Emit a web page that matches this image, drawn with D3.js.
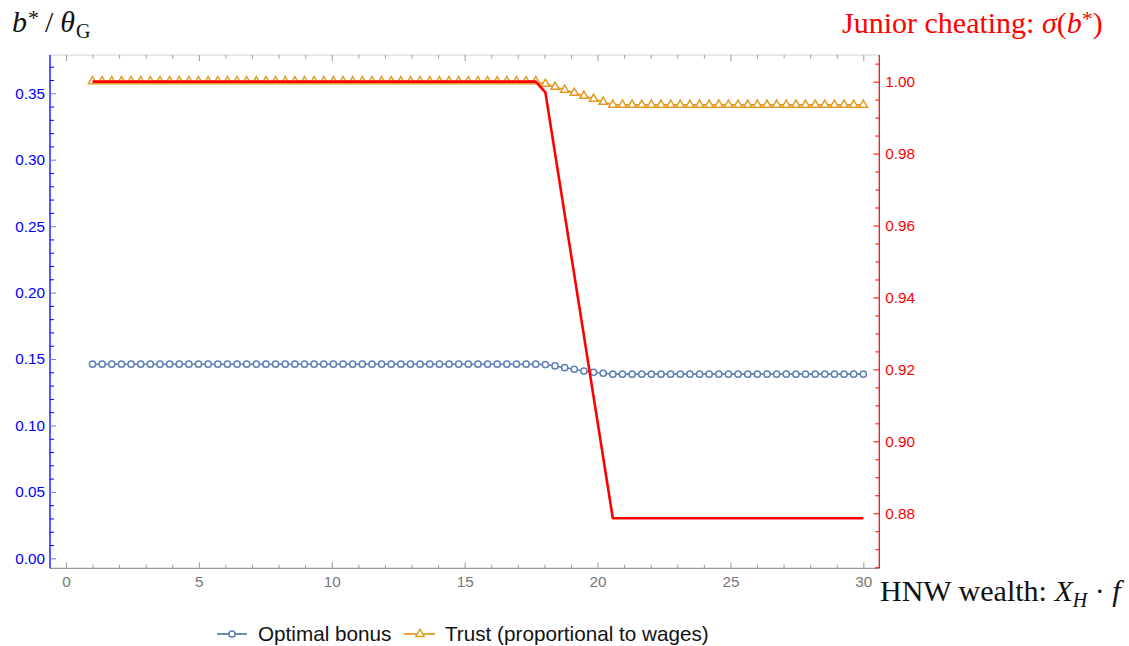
<!DOCTYPE html>
<html><head><meta charset="utf-8">
<script src="https://cdn.jsdelivr.net/npm/d3@7"></script>
<style>body{margin:0;background:#fff}svg{display:block}</style>
</head><body>
<svg id="chart" width="1129" height="646"></svg>
<script>
// ---------- data ----------
const xValues = [1,1.3625,1.725,2.0875,2.45,2.8125,3.175,3.5375,3.9,4.2625,4.625,4.9875,5.35,5.7125,6.075,6.4375,6.8,7.1625,7.525,7.8875,8.25,8.6125,8.975,9.3375,9.7,10.0625,10.425,10.7875,11.15,11.5125,11.875,12.2375,12.6,12.9625,13.325,13.6875,14.05,14.4125,14.775,15.1375,15.5,15.8625,16.225,16.5875,16.95,17.3125,17.675,18.0375,18.4,18.7625,19.125,19.4875,19.85,20.2125,20.575,20.9375,21.3,21.6625,22.025,22.3875,22.75,23.1125,23.475,23.8375,24.2,24.5625,24.925,25.2875,25.65,26.0125,26.375,26.7375,27.1,27.4625,27.825,28.1875,28.55,28.9125,29.275,29.6375,30];
const optimalBonus = [0.1461,0.1461,0.1461,0.1461,0.1461,0.1461,0.1461,0.1461,0.1461,0.1461,0.1461,0.1461,0.1461,0.1461,0.1461,0.1461,0.1461,0.1461,0.1461,0.1461,0.1461,0.1461,0.1461,0.1461,0.1461,0.1461,0.1461,0.1461,0.1461,0.1461,0.1461,0.1461,0.1461,0.1461,0.1461,0.1461,0.1461,0.1461,0.1461,0.1461,0.1461,0.1461,0.1461,0.1461,0.1461,0.1461,0.1461,0.1458,0.1448,0.1435,0.1423,0.1410,0.1400,0.1393,0.1386,0.1386,0.1386,0.1386,0.1386,0.1386,0.1386,0.1386,0.1386,0.1386,0.1386,0.1386,0.1386,0.1386,0.1386,0.1386,0.1386,0.1386,0.1386,0.1386,0.1386,0.1386,0.1386,0.1386,0.1386,0.1386,0.1386];
const trust = [0.3590,0.3590,0.3590,0.3590,0.3590,0.3590,0.3590,0.3590,0.3590,0.3590,0.3590,0.3590,0.3590,0.3590,0.3590,0.3590,0.3590,0.3590,0.3590,0.3590,0.3590,0.3590,0.3590,0.3590,0.3590,0.3590,0.3590,0.3590,0.3590,0.3590,0.3590,0.3590,0.3590,0.3590,0.3590,0.3590,0.3590,0.3590,0.3590,0.3590,0.3590,0.3590,0.3590,0.3590,0.3590,0.3590,0.3590,0.3570,0.3548,0.3526,0.3503,0.3480,0.3458,0.3435,0.3413,0.3413,0.3413,0.3413,0.3413,0.3413,0.3413,0.3413,0.3413,0.3413,0.3413,0.3413,0.3413,0.3413,0.3413,0.3413,0.3413,0.3413,0.3413,0.3413,0.3413,0.3413,0.3413,0.3413,0.3413,0.3413,0.3413];
const cheatX = [1, 17.675, 18.0375, 20.575, 30];
const cheatY = [1.0, 1.0, 0.997, 0.8786, 0.8786];
const xMajorTicks = [0,5,10,15,20,25,30];
const leftMajorTicks = [0,0.05,0.10,0.15,0.20,0.25,0.30,0.35];
const rightMajorTicks = [0.88,0.90,0.92,0.94,0.96,0.98,1.00];
const seriesNames = ["Optimal bonus", "Trust (proportional to wages)"];

// ---------- layout ----------
const svg = d3.select("#chart");
const L = 50, R = 879.3, T = 55, B = 568.3;
const x = d3.scaleLinear().domain([-0.6, 30.6]).range([L, R]);
const yL = d3.scaleLinear().domain([-0.0075, 0.3788]).range([B, T]);
const yR = d3.scaleLinear().domain([0.8647, 1.0074]).range([B, T]);

const BLUE = "#5E81B5", ORANGE = "#E19C24", RED = "#FF0000";
const sans = "'Liberation Sans', Arial, sans-serif";
const serif = "'Liberation Serif', 'Times New Roman', serif";

// minor tick values
const xMinor = d3.range(0, 31, 1).filter(v => v % 5 !== 0);
const leftMinor = d3.range(0, 38, 1).map(v => v / 100).filter((v, i) => i % 5 !== 0);
const rightMinor = d3.range(173, 202, 1).map(v => v / 200).filter(v => Math.abs(v*50 - Math.round(v*50)) > 1e-6);

function styleAxis(g, color, labelColor) {
  g.select(".domain").remove();
  g.selectAll(".tick line").attr("stroke", color);
  g.selectAll(".tick text").attr("fill", labelColor).attr("font-family", sans).attr("font-size", 15.3);
}

// top frame
svg.append("line").attr("x1", L).attr("x2", R).attr("y1", T).attr("y2", T)
  .attr("stroke", "#d0d0d0").attr("stroke-width", 1);
const topMajor = svg.append("g").attr("transform", `translate(0,${T})`)
  .call(d3.axisTop(x).tickValues(xMajorTicks).tickSizeInner(-6).tickSizeOuter(0).tickFormat(""));
styleAxis(topMajor, "#999", "#777");
const topMinor = svg.append("g").attr("transform", `translate(0,${T})`)
  .call(d3.axisTop(x).tickValues(xMinor).tickSizeInner(-3.5).tickSizeOuter(0).tickFormat(""));
styleAxis(topMinor, "#999", "#777");

// bottom axis
svg.append("line").attr("x1", L).attr("x2", R).attr("y1", B).attr("y2", B)
  .attr("stroke", "#999").attr("stroke-width", 1.2);
const bMajor = svg.append("g").attr("transform", `translate(0,${B})`)
  .call(d3.axisBottom(x).tickValues(xMajorTicks).tickSizeInner(-6).tickSizeOuter(0).tickPadding(8).tickFormat(d3.format("d")));
styleAxis(bMajor, "#999", "#777");
const bMinor = svg.append("g").attr("transform", `translate(0,${B})`)
  .call(d3.axisBottom(x).tickValues(xMinor).tickSizeInner(-3.5).tickSizeOuter(0).tickFormat(""));
styleAxis(bMinor, "#999", "#777");

// left axis
svg.append("line").attr("x1", L).attr("x2", L).attr("y1", T).attr("y2", B)
  .attr("stroke", "#0000ff").attr("stroke-width", 1.3);
const lMajor = svg.append("g").attr("transform", `translate(${L},0)`)
  .call(d3.axisLeft(yL).tickValues(leftMajorTicks).tickSizeInner(-6).tickSizeOuter(0).tickPadding(5).tickFormat(d3.format(".2f")));
styleAxis(lMajor, "#7777ff", "#0000ff");
const lMinor = svg.append("g").attr("transform", `translate(${L},0)`)
  .call(d3.axisLeft(yL).tickValues(leftMinor).tickSizeInner(-4).tickSizeOuter(0).tickFormat(""));
styleAxis(lMinor, "#0000ff", "#0000ff");

// right axis
svg.append("line").attr("x1", R).attr("x2", R).attr("y1", T).attr("y2", B)
  .attr("stroke", RED).attr("stroke-width", 1.2);
const rMajor = svg.append("g").attr("transform", `translate(${R},0)`)
  .call(d3.axisRight(yR).tickValues(rightMajorTicks).tickSizeInner(-6).tickSizeOuter(0).tickPadding(6).tickFormat(d3.format(".2f")));
styleAxis(rMajor, RED, RED);
const rMinor = svg.append("g").attr("transform", `translate(${R},0)`)
  .call(d3.axisRight(yR).tickValues(rightMinor).tickSizeInner(-4).tickSizeOuter(0).tickFormat(""));
styleAxis(rMinor, RED, RED);

// ---------- series ----------
const bonusData = xValues.map((v, i) => [v, optimalBonus[i]]);
const trustData = xValues.map((v, i) => [v, trust[i]]);
const cheatData = cheatX.map((v, i) => [v, cheatY[i]]);

const lineL = d3.line().x(d => x(d[0])).y(d => yL(d[1]));
const lineR = d3.line().x(d => x(d[0])).y(d => yR(d[1]));

// Optimal bonus
svg.append("path").datum(bonusData).attr("d", lineL)
  .attr("fill", "none").attr("stroke", BLUE).attr("stroke-width", 1.6);
svg.append("g").selectAll("circle").data(bonusData).join("circle")
  .attr("cx", d => x(d[0])).attr("cy", d => yL(d[1])).attr("r", 3.1)
  .attr("fill", "#fff").attr("stroke", BLUE).attr("stroke-width", 1.5);

// Trust
const tri = d3.symbol().type(d3.symbolTriangle).size(30);
svg.append("path").datum(trustData).attr("d", lineL)
  .attr("fill", "none").attr("stroke", ORANGE).attr("stroke-width", 1.6);
svg.append("g").selectAll("path").data(trustData).join("path")
  .attr("d", tri).attr("transform", d => `translate(${x(d[0])},${yL(d[1])})`)
  .attr("fill", "#fff").attr("stroke", ORANGE).attr("stroke-width", 1.5);

// Junior cheating
svg.append("path").datum(cheatData).attr("d", lineR)
  .attr("fill", "none").attr("stroke", RED).attr("stroke-width", 2.6).attr("stroke-linejoin", "round");

// ---------- labels ----------
const lab1 = svg.append("text").attr("x", 12).attr("y", 32).attr("font-family", serif).attr("font-size", 30).attr("fill", "#111");
lab1.append("tspan").attr("font-style", "italic").text("b");
lab1.append("tspan").attr("font-size", 22).attr("dy", -7).attr("dx", 1).text("*");
lab1.append("tspan").attr("dy", 7).attr("dx", 6).text("/");
lab1.append("tspan").attr("font-style", "italic").attr("dx", 7).text("θ");
lab1.append("tspan").attr("font-size", 20).attr("dy", 6).attr("dx", 1).text("G");

const lab2 = svg.append("text").attr("x", 842).attr("y", 33).attr("font-family", serif).attr("font-size", 30).attr("fill", RED);
lab2.append("tspan").text("Junior cheating: ");
lab2.append("tspan").attr("font-style", "italic").text("σ");
lab2.append("tspan").text("(");
lab2.append("tspan").attr("font-style", "italic").text("b");
lab2.append("tspan").attr("font-size", 22).attr("dy", -7).text("*");
lab2.append("tspan").attr("dy", 7).text(")");

const lab3 = svg.append("text").attr("x", 880).attr("y", 601).attr("font-family", serif).attr("font-size", 30).attr("fill", "#111");
lab3.append("tspan").text("HNW wealth: ");
lab3.append("tspan").attr("font-style", "italic").text("X");
lab3.append("tspan").attr("font-style", "italic").attr("font-size", 20).attr("dy", 6).text("H");
lab3.append("tspan").attr("dy", -6).text(" · ");
lab3.append("tspan").attr("font-style", "italic").text("f");

// ---------- legend ----------
const legY = 634;
const leg = svg.append("g");
leg.append("line").attr("x1", 217).attr("x2", 247).attr("y1", legY).attr("y2", legY).attr("stroke", BLUE).attr("stroke-width", 1.8);
leg.append("circle").attr("cx", 232).attr("cy", legY).attr("r", 3.1).attr("fill", "#fff").attr("stroke", BLUE).attr("stroke-width", 1.5);
leg.append("text").attr("x", 258).attr("y", legY + 7).attr("font-family", sans).attr("font-size", 20.7).attr("fill", "#111").text(seriesNames[0]);
leg.append("line").attr("x1", 404).attr("x2", 435).attr("y1", legY).attr("y2", legY).attr("stroke", ORANGE).attr("stroke-width", 1.8);
leg.append("path").attr("d", tri).attr("transform", `translate(420,${legY})`).attr("fill", "#fff").attr("stroke", ORANGE).attr("stroke-width", 1.5);
leg.append("text").attr("x", 445).attr("y", legY + 7).attr("font-family", sans).attr("font-size", 20.7).attr("fill", "#111").text(seriesNames[1]);
</script>
</body></html>
